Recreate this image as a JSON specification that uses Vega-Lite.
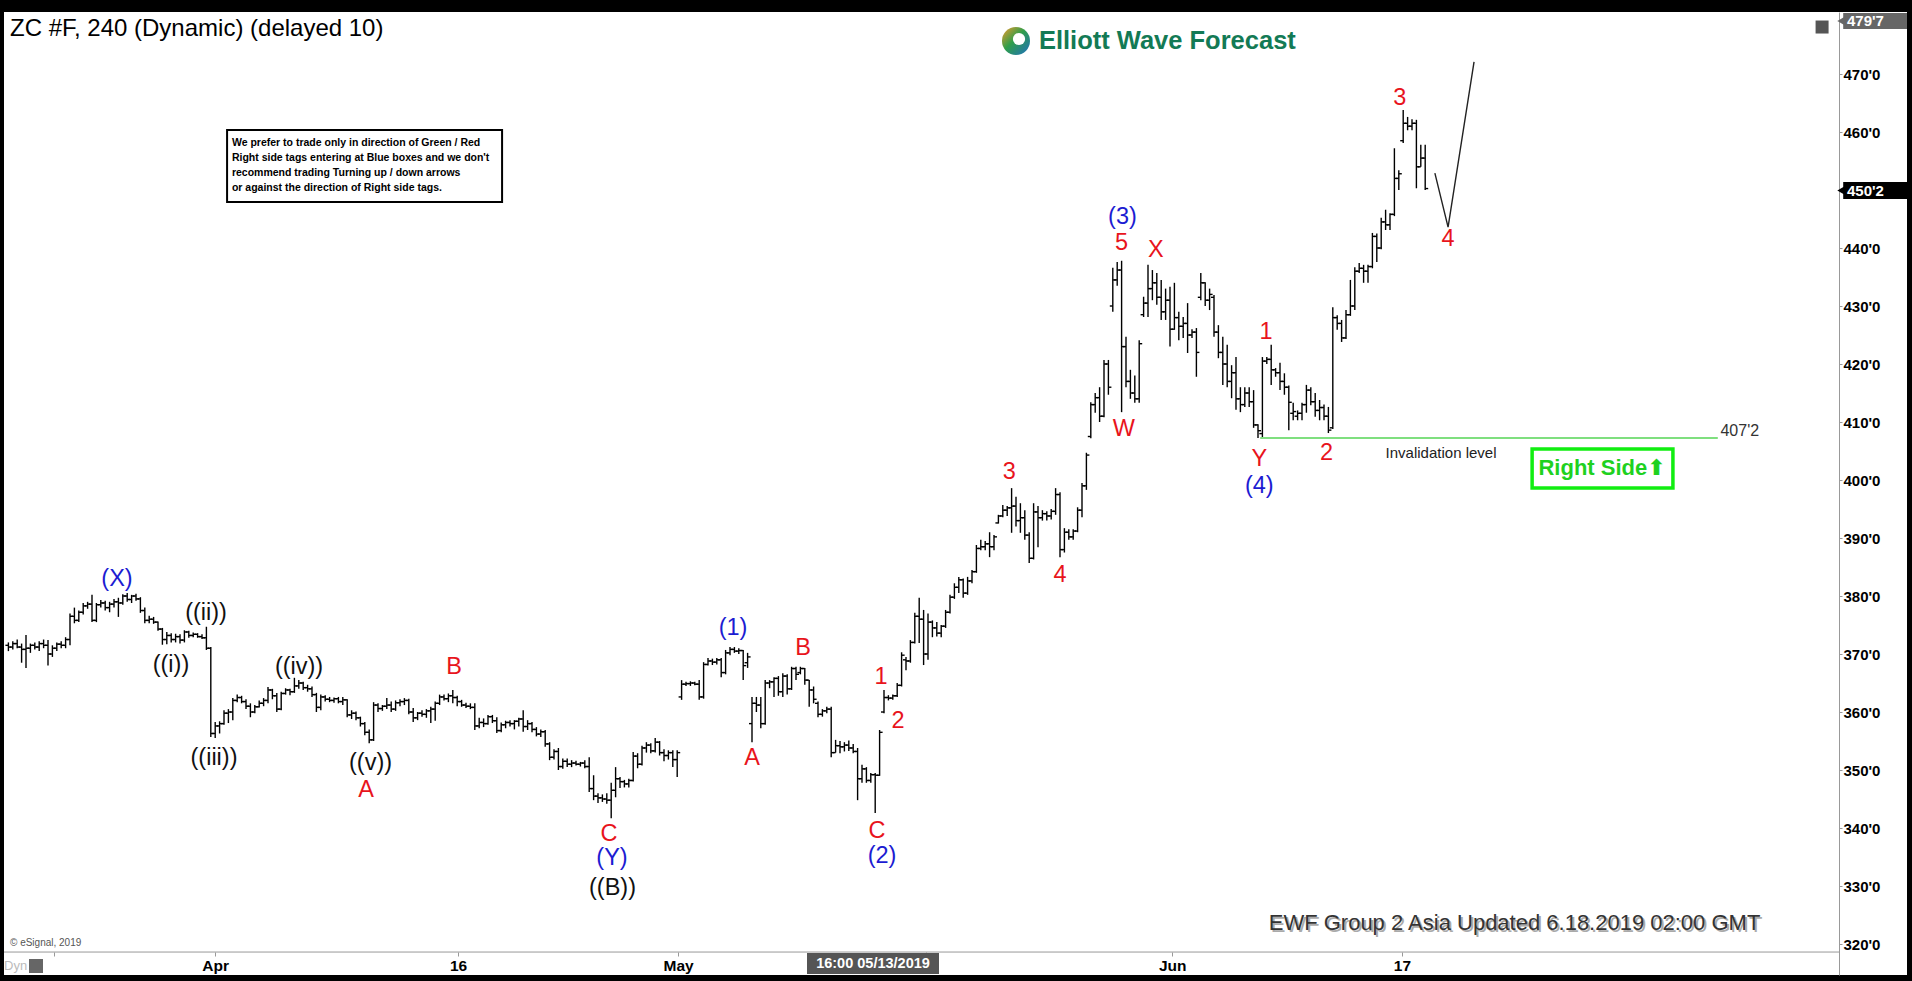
{
"$schema":"https://vega.github.io/schema/vega-lite/v6.json",
"width":1903,"height":963,
"autosize":{"type":"none"},
"padding":{"left":4,"top":12,"right":5,"bottom":6},
"background":"black",
"config":{"view":{"fill":"white","stroke":null},"font":"Liberation Sans","text":{"font":"Liberation Sans"},"axis":{"grid":false,"title":null}},
"datasets":{
"bars":[
{"i":1,"o":371.5,"h":372,"l":370.5,"c":371.2},{"i":2,"o":371.2,"h":372.2,"l":370.8,"c":371.8},{"i":3,"o":371.8,"h":372.5,"l":371,"c":371.2},{"i":4,"o":371.2,"h":371.8,"l":368.5,"c":370.8},{"i":5,"o":370.8,"h":373.3,"l":367.6,"c":371},
{"i":6,"o":371,"h":371.8,"l":370.2,"c":371.5},{"i":7,"o":371.5,"h":372,"l":370.8,"c":371.2},{"i":8,"o":371.2,"h":372.2,"l":370.5,"c":371.8},{"i":9,"o":371.8,"h":372.5,"l":371,"c":371.5},{"i":10,"o":371.5,"h":372.4,"l":368,"c":370},
{"i":11,"o":370,"h":371.5,"l":369.5,"c":371},{"i":12,"o":371,"h":372,"l":370.5,"c":371.7},{"i":13,"o":371.7,"h":372.2,"l":371,"c":371.5},{"i":14,"o":371.5,"h":372.9,"l":371,"c":372.5},{"i":15,"o":372.5,"h":377,"l":371.5,"c":376.5},
{"i":16,"o":376.5,"h":378,"l":375.3,"c":375.8},{"i":17,"o":375.8,"h":377.5,"l":375.5,"c":377.2},{"i":18,"o":377.2,"h":378.8,"l":376.8,"c":378.3},{"i":19,"o":378.3,"h":379,"l":377.8,"c":378.6},{"i":20,"o":378.6,"h":380.2,"l":375.5,"c":375.8},
{"i":21,"o":375.8,"h":378.8,"l":375.5,"c":378.5},{"i":22,"o":378.5,"h":379.3,"l":378,"c":378.8},{"i":23,"o":378.8,"h":379.2,"l":377.5,"c":378},{"i":24,"o":378,"h":379,"l":377.2,"c":378.6},{"i":25,"o":378.6,"h":379.5,"l":378,"c":379},
{"i":26,"o":379,"h":379.7,"l":376.4,"c":378.8},{"i":27,"o":378.8,"h":380.3,"l":378.5,"c":380},{"i":28,"o":380,"h":380.5,"l":379,"c":379.4},{"i":29,"o":379.4,"h":380.2,"l":378.8,"c":380},{"i":30,"o":380,"h":380.4,"l":379.2,"c":379.5},
{"i":31,"o":379.5,"h":379.8,"l":377.1,"c":377.5},{"i":32,"o":377.5,"h":378,"l":375.3,"c":375.8},{"i":33,"o":375.8,"h":376.6,"l":375.3,"c":376},{"i":34,"o":376,"h":376.4,"l":375.2,"c":375.5},{"i":35,"o":375.5,"h":375.6,"l":374,"c":374.3},
{"i":36,"o":374.3,"h":374.5,"l":371.6,"c":372.5},{"i":37,"o":372.5,"h":373.8,"l":371.7,"c":373.2},{"i":38,"o":373.2,"h":373.6,"l":372,"c":372.5},{"i":39,"o":372.5,"h":373.5,"l":372,"c":373},{"i":40,"o":373,"h":373.4,"l":371.8,"c":372.4},
{"i":41,"o":372.4,"h":374.1,"l":372,"c":373.8},{"i":42,"o":373.8,"h":374,"l":372.8,"c":373.2},{"i":43,"o":373.2,"h":373.7,"l":372.9,"c":373.4},{"i":44,"o":373.4,"h":373.6,"l":372.8,"c":373},{"i":45,"o":373,"h":373.4,"l":372.6,"c":372.8},
{"i":46,"o":372.8,"h":374.7,"l":370.7,"c":371},{"i":47,"o":371,"h":371.2,"l":355.7,"c":356.3},{"i":48,"o":356.3,"h":358.3,"l":355.5,"c":357.6},{"i":49,"o":357.6,"h":358.4,"l":356.3,"c":358},{"i":50,"o":358,"h":360.3,"l":357.8,"c":359.8},
{"i":51,"o":359.8,"h":360.5,"l":358.1,"c":360},{"i":52,"o":360,"h":362.4,"l":358.6,"c":362},{"i":53,"o":362,"h":363,"l":361.7,"c":362.5},{"i":54,"o":362.5,"h":362.8,"l":361.5,"c":361.8},{"i":55,"o":361.8,"h":362.2,"l":360.5,"c":361},
{"i":56,"o":361,"h":361.5,"l":359.1,"c":360},{"i":57,"o":360,"h":361.2,"l":359.8,"c":360.9},{"i":58,"o":360.9,"h":362,"l":360.8,"c":361.5},{"i":59,"o":361.5,"h":362.4,"l":361,"c":362},{"i":60,"o":362,"h":364.3,"l":361.5,"c":363.8},
{"i":61,"o":363.8,"h":364,"l":362.2,"c":362.8},{"i":62,"o":362.8,"h":363.3,"l":360,"c":360.5},{"i":63,"o":360.5,"h":363.5,"l":360.3,"c":363.2},{"i":64,"o":363.2,"h":364.1,"l":363,"c":363.8},{"i":65,"o":363.8,"h":364,"l":362.9,"c":363.5},
{"i":66,"o":363.5,"h":365.9,"l":363.3,"c":364.5},{"i":67,"o":364.5,"h":365.5,"l":364,"c":365},{"i":68,"o":365,"h":365.2,"l":363.8,"c":364.2},{"i":69,"o":364.2,"h":364.7,"l":363.5,"c":364},{"i":70,"o":364,"h":364.4,"l":362.6,"c":363},
{"i":71,"o":363,"h":363.3,"l":360,"c":360.8},{"i":72,"o":360.8,"h":363,"l":360.3,"c":362.6},{"i":73,"o":362.6,"h":362.9,"l":361.8,"c":362.2},{"i":74,"o":362.2,"h":362.6,"l":361.7,"c":362},{"i":75,"o":362,"h":362.5,"l":361.6,"c":362.3},
{"i":76,"o":362.3,"h":362.6,"l":361.5,"c":361.8},{"i":77,"o":361.8,"h":362.6,"l":361.2,"c":362.1},{"i":78,"o":362.1,"h":362.2,"l":359.1,"c":359.5},{"i":79,"o":359.5,"h":360.3,"l":358.8,"c":359.8},{"i":80,"o":359.8,"h":360.1,"l":358.6,"c":359},
{"i":81,"o":359,"h":359.2,"l":357.5,"c":358},{"i":82,"o":358,"h":358.3,"l":356,"c":356.5},{"i":83,"o":356.5,"h":357,"l":354.6,"c":355.2},{"i":84,"o":355.2,"h":361.7,"l":355,"c":361.2},{"i":85,"o":361.2,"h":361.5,"l":360,"c":360.6},
{"i":86,"o":360.6,"h":361.2,"l":360.2,"c":361},{"i":87,"o":361,"h":362.4,"l":360.5,"c":361.2},{"i":88,"o":361.2,"h":361.8,"l":360,"c":360.5},{"i":89,"o":360.5,"h":362,"l":360.2,"c":361.6},{"i":90,"o":361.6,"h":362.2,"l":361,"c":361.8},
{"i":91,"o":361.8,"h":362.4,"l":361.2,"c":362},{"i":92,"o":362,"h":362.3,"l":359.6,"c":360},{"i":93,"o":360,"h":360.7,"l":358.3,"c":359},{"i":94,"o":359,"h":360,"l":358.6,"c":359.8},{"i":95,"o":359.8,"h":360.3,"l":359.2,"c":359.6},
{"i":96,"o":359.6,"h":360.5,"l":359,"c":360.2},{"i":97,"o":360.2,"h":360.9,"l":358.1,"c":360.5},{"i":98,"o":360.5,"h":361.8,"l":358.5,"c":361.5},{"i":99,"o":361.5,"h":363,"l":361.2,"c":362.6},{"i":100,"o":362.6,"h":363,"l":362,"c":362.3},
{"i":101,"o":362.3,"h":363.2,"l":361.7,"c":362.8},{"i":102,"o":362.8,"h":363.8,"l":361.5,"c":362.5},{"i":103,"o":362.5,"h":362.8,"l":361,"c":361.8},{"i":104,"o":361.8,"h":362.1,"l":360.9,"c":361.2},{"i":105,"o":361.2,"h":361.6,"l":360.7,"c":361},
{"i":106,"o":361,"h":361.5,"l":360.5,"c":360.8},{"i":107,"o":360.8,"h":361.5,"l":356.9,"c":357.6},{"i":108,"o":357.6,"h":359,"l":357.2,"c":358.2},{"i":109,"o":358.2,"h":358.9,"l":357.4,"c":358},{"i":110,"o":358,"h":359.5,"l":357.8,"c":359.2},
{"i":111,"o":359.2,"h":359.5,"l":358.1,"c":358.5},{"i":112,"o":358.5,"h":359.1,"l":356.4,"c":356.8},{"i":113,"o":356.8,"h":358.2,"l":356.5,"c":357.8},{"i":114,"o":357.8,"h":358.5,"l":357.2,"c":358.2},{"i":115,"o":358.2,"h":358.6,"l":357.5,"c":358},
{"i":116,"o":358,"h":358.6,"l":357,"c":358.4},{"i":117,"o":358.4,"h":359,"l":357.5,"c":358.8},{"i":118,"o":358.8,"h":360.3,"l":356.6,"c":357.5},{"i":119,"o":357.5,"h":358.6,"l":356.9,"c":358},{"i":120,"o":358,"h":358.3,"l":356.5,"c":357},
{"i":121,"o":357,"h":357.4,"l":355.8,"c":356.2},{"i":122,"o":356.2,"h":357,"l":355.7,"c":356.6},{"i":123,"o":356.6,"h":356.9,"l":354,"c":354.5},{"i":124,"o":354.5,"h":354.8,"l":351.7,"c":352.2},{"i":125,"o":352.2,"h":353.6,"l":351.8,"c":353.2},
{"i":126,"o":353.2,"h":353.8,"l":350,"c":350.6},{"i":127,"o":350.6,"h":352,"l":350.2,"c":351.5},{"i":128,"o":351.5,"h":352,"l":350.5,"c":351},{"i":129,"o":351,"h":351.7,"l":350.5,"c":351.2},{"i":130,"o":351.2,"h":351.6,"l":350.8,"c":351},
{"i":131,"o":351,"h":351.4,"l":350.6,"c":351.2},{"i":132,"o":351.2,"h":351.7,"l":350.3,"c":350.6},{"i":133,"o":350.6,"h":352.2,"l":346.2,"c":346.8},{"i":134,"o":346.8,"h":349.1,"l":344.8,"c":345.5},{"i":135,"o":345.5,"h":346,"l":344.3,"c":345.2},
{"i":136,"o":345.2,"h":345.8,"l":344.5,"c":345},{"i":137,"o":345,"h":346,"l":344.2,"c":344.8},{"i":138,"o":344.8,"h":347.8,"l":341.7,"c":346.5},{"i":139,"o":346.5,"h":350.5,"l":345.3,"c":348.5},{"i":140,"o":348.5,"h":348.8,"l":346.9,"c":348},
{"i":141,"o":348,"h":348.3,"l":347,"c":347.6},{"i":142,"o":347.6,"h":348.5,"l":347,"c":348.2},{"i":143,"o":348.2,"h":353.1,"l":348,"c":352.4},{"i":144,"o":352.4,"h":352.9,"l":350.3,"c":351},{"i":145,"o":351,"h":354.2,"l":350.8,"c":353.8},
{"i":146,"o":353.8,"h":354.8,"l":353,"c":354.3},{"i":147,"o":354.3,"h":354.6,"l":352.9,"c":353.3},{"i":148,"o":353.3,"h":355.5,"l":353,"c":354.8},{"i":149,"o":354.8,"h":355,"l":352.5,"c":353},{"i":150,"o":353,"h":353.6,"l":351.5,"c":352.5},
{"i":151,"o":352.5,"h":353.4,"l":351.8,"c":353},{"i":152,"o":353,"h":353.4,"l":350.5,"c":351.8},{"i":153,"o":351.8,"h":353.4,"l":348.8,"c":353},{"i":154,"o":362.6,"h":365.5,"l":362.1,"c":364.8},{"i":155,"o":364.8,"h":365.2,"l":364.5,"c":364.9},
{"i":156,"o":364.9,"h":365.3,"l":364.5,"c":365},{"i":157,"o":365,"h":365.2,"l":364.6,"c":364.8},{"i":158,"o":364.8,"h":365.5,"l":362.1,"c":362.6},{"i":159,"o":362.6,"h":368.6,"l":362.3,"c":368.2},{"i":160,"o":368.2,"h":369.3,"l":368,"c":368.8},
{"i":161,"o":368.8,"h":369.2,"l":368.1,"c":368.6},{"i":162,"o":368.6,"h":369.3,"l":368.2,"c":369},{"i":163,"o":369,"h":369.3,"l":366,"c":366.8},{"i":164,"o":366.8,"h":370.7,"l":366.5,"c":370.2},{"i":165,"o":370.2,"h":371.2,"l":369.8,"c":370.8},
{"i":166,"o":370.8,"h":371.2,"l":370.2,"c":370.5},{"i":167,"o":370.5,"h":371,"l":370,"c":370.6},{"i":168,"o":370.6,"h":370.7,"l":365.5,"c":368},{"i":169,"o":368.5,"h":370.2,"l":367.6,"c":369.5},{"i":170,"o":358,"h":362.6,"l":354.8,"c":361.5},
{"i":171,"o":361.5,"h":362.6,"l":360,"c":361.2},{"i":172,"o":361.2,"h":362.6,"l":357.2,"c":358},{"i":173,"o":358,"h":365.5,"l":357.8,"c":365},{"i":174,"o":365,"h":365.5,"l":364.1,"c":365.2},{"i":175,"o":365.2,"h":366,"l":362.6,"c":365.8},
{"i":176,"o":365.8,"h":366.2,"l":362.8,"c":363.5},{"i":177,"o":363.5,"h":366.7,"l":362.6,"c":366.2},{"i":178,"o":366.2,"h":366.5,"l":363,"c":364},{"i":179,"o":364,"h":367.8,"l":363.8,"c":367.5},{"i":180,"o":367.5,"h":367.8,"l":365.5,"c":366.5},
{"i":181,"o":366.8,"h":367.8,"l":366.5,"c":367.5},{"i":182,"o":367.5,"h":367.6,"l":364.7,"c":365.5},{"i":183,"o":365.5,"h":365.5,"l":360.9,"c":363.8},{"i":184,"o":363.8,"h":364.4,"l":361.5,"c":362.2},{"i":185,"o":361.5,"h":361.8,"l":359.1,"c":359.6},
{"i":186,"o":359.6,"h":360.5,"l":359.2,"c":360.2},{"i":187,"o":360.2,"h":360.9,"l":359.8,"c":360.5},{"i":188,"o":360.5,"h":360.9,"l":352.2,"c":353},{"i":189,"o":353,"h":355.2,"l":353,"c":354.2},{"i":190,"o":354.2,"h":355,"l":352.9,"c":354},
{"i":191,"o":354,"h":354.8,"l":353.2,"c":354.3},{"i":192,"o":354.3,"h":355.1,"l":353.3,"c":353.8},{"i":193,"o":353.8,"h":354.5,"l":352.9,"c":353.2},{"i":194,"o":353.2,"h":353.8,"l":344.8,"c":348.5},{"i":195,"o":348.5,"h":350.9,"l":347.8,"c":350.2},
{"i":196,"o":350.2,"h":350.5,"l":347.8,"c":348.2},{"i":197,"o":348.2,"h":349.5,"l":347.8,"c":349.2},{"i":198,"o":349.2,"h":349.5,"l":342.6,"c":349.1},{"i":199,"o":349.1,"h":356.9,"l":349,"c":356.5},{"i":200,"o":360,"h":363.8,"l":359.8,"c":362.5},
{"i":201,"o":362.5,"h":362.9,"l":362,"c":362.4},{"i":202,"o":362.4,"h":363,"l":362.1,"c":362.8},{"i":203,"o":362.8,"h":365,"l":362.6,"c":364.6},{"i":204,"o":364.6,"h":370.3,"l":364.4,"c":369.8},{"i":205,"o":369,"h":369.5,"l":367.2,"c":368.8},
{"i":206,"o":368.8,"h":372.4,"l":368.5,"c":372},{"i":207,"o":372,"h":377.1,"l":371.8,"c":376.5},{"i":208,"o":376.5,"h":379.7,"l":371.9,"c":376},{"i":209,"o":376,"h":377.6,"l":368.1,"c":370},{"i":210,"o":370,"h":377,"l":369,"c":375.5},
{"i":211,"o":375.5,"h":375.8,"l":372.9,"c":374.5},{"i":212,"o":374.5,"h":375.5,"l":373,"c":373.6},{"i":213,"o":373.6,"h":375,"l":372.9,"c":374.8},{"i":214,"o":374.8,"h":377.6,"l":374.5,"c":377.2},{"i":215,"o":377.2,"h":380.2,"l":377,"c":379.8},
{"i":216,"o":379.8,"h":382.2,"l":379.5,"c":381.5},{"i":217,"o":381.5,"h":383.3,"l":380.5,"c":382.8},{"i":218,"o":382.8,"h":383,"l":379.7,"c":380.5},{"i":219,"o":380.5,"h":383.3,"l":380.2,"c":382.6},{"i":220,"o":382.6,"h":384.5,"l":382.2,"c":384.2},
{"i":221,"o":384.2,"h":388.8,"l":384,"c":388.2},{"i":222,"o":388.2,"h":389.7,"l":387.9,"c":388.5},{"i":223,"o":388.5,"h":389.5,"l":387.9,"c":389},{"i":224,"o":389,"h":391,"l":386.7,"c":388.5},{"i":225,"o":388.5,"h":390.5,"l":387.9,"c":390.2},
{"i":226,"o":392.6,"h":394,"l":392.5,"c":393.8},{"i":227,"o":393.8,"h":395.7,"l":393.6,"c":394.8},{"i":228,"o":394.8,"h":395.5,"l":393.8,"c":395.2},{"i":229,"o":395.2,"h":398.6,"l":390.9,"c":395.5},{"i":230,"o":395.5,"h":397.1,"l":392,"c":393},
{"i":231,"o":393,"h":396,"l":390.9,"c":393.5},{"i":232,"o":393.5,"h":394.8,"l":389.7,"c":390.5},{"i":233,"o":390.5,"h":391,"l":385.7,"c":386.5},{"i":234,"o":386.5,"h":396,"l":386.3,"c":394.5},{"i":235,"o":394.5,"h":395.5,"l":388.4,"c":393.5},
{"i":236,"o":393.5,"h":394.8,"l":393,"c":394.2},{"i":237,"o":394.2,"h":394.6,"l":393,"c":393.8},{"i":238,"o":393.8,"h":395,"l":393.2,"c":394.6},{"i":239,"o":394.6,"h":398.6,"l":394,"c":397.5},{"i":240,"o":397.5,"h":397.9,"l":386.7,"c":388},
{"i":241,"o":388,"h":391.7,"l":387.5,"c":391},{"i":242,"o":391,"h":391.5,"l":389.7,"c":390.2},{"i":243,"o":390.2,"h":391.5,"l":389.7,"c":391.2},{"i":244,"o":391.2,"h":395.3,"l":391,"c":394.8},{"i":245,"o":394.8,"h":399.5,"l":393.6,"c":399},
{"i":246,"o":399,"h":404.7,"l":398.3,"c":404.3},{"i":247,"o":407.5,"h":413.4,"l":407.2,"c":413},{"i":248,"o":413,"h":415,"l":411.6,"c":414.2},{"i":249,"o":414.2,"h":416,"l":410,"c":411},{"i":250,"o":411,"h":420.7,"l":410.8,"c":420},
{"i":251,"o":420,"h":420.7,"l":414.7,"c":416},{"i":252,"o":430,"h":436.6,"l":429,"c":434.5},{"i":253,"o":434.5,"h":437.6,"l":433.5,"c":436.2},{"i":254,"o":436.2,"h":437.8,"l":411.7,"c":423},{"i":255,"o":423,"h":424.7,"l":416,"c":417},
{"i":256,"o":417,"h":419,"l":414,"c":415},{"i":257,"o":415,"h":418,"l":413.3,"c":414},{"i":258,"o":414,"h":424.1,"l":413.3,"c":423.5},{"i":259,"o":428.5,"h":431.6,"l":428.1,"c":430.5},{"i":260,"o":430.5,"h":437.1,"l":428.1,"c":433},
{"i":261,"o":433,"h":436.2,"l":431,"c":434},{"i":262,"o":434,"h":435.7,"l":430.2,"c":431.5},{"i":263,"o":431.5,"h":434.5,"l":427.6,"c":429},{"i":264,"o":429,"h":433,"l":427.6,"c":431},{"i":265,"o":431,"h":433.3,"l":423,"c":426},
{"i":266,"o":426,"h":434,"l":425.9,"c":428},{"i":267,"o":428,"h":429,"l":424.1,"c":426.5},{"i":268,"o":426.5,"h":428.1,"l":424.5,"c":427},{"i":269,"o":427,"h":430.5,"l":421.9,"c":425},{"i":270,"o":425,"h":426,"l":424.5,"c":425.5},
{"i":271,"o":425.5,"h":426.2,"l":417.8,"c":422},{"i":272,"o":431.5,"h":435.7,"l":431,"c":434},{"i":273,"o":434,"h":434.1,"l":430,"c":431},{"i":274,"o":431,"h":433,"l":429.3,"c":432},{"i":275,"o":431.5,"h":431.9,"l":424.7,"c":425.5},
{"i":276,"o":425.5,"h":426.7,"l":421,"c":422},{"i":277,"o":422,"h":424.7,"l":416.4,"c":420},{"i":278,"o":420,"h":423.3,"l":416,"c":417},{"i":279,"o":417,"h":419.8,"l":414.1,"c":418.5},{"i":280,"o":418.5,"h":421.2,"l":412.1,"c":414},
{"i":281,"o":414,"h":416,"l":411.7,"c":413},{"i":282,"o":413,"h":416,"l":412.6,"c":415},{"i":283,"o":415,"h":416,"l":412.6,"c":413.5},{"i":284,"o":413.5,"h":415.5,"l":409,"c":409.5},{"i":285,"o":409.5,"h":409.6,"l":407.25,"c":408.5},
{"i":286,"o":408,"h":421.2,"l":407.3,"c":420.5},{"i":287,"o":420.5,"h":421.2,"l":420,"c":420.8},{"i":288,"o":420.8,"h":423.3,"l":416.4,"c":419},{"i":289,"o":419,"h":419.3,"l":417.8,"c":418.5},{"i":290,"o":418.5,"h":420.2,"l":415.5,"c":417},
{"i":291,"o":417,"h":418.4,"l":414.7,"c":416},{"i":292,"o":416,"h":416.3,"l":408.6,"c":413.4},{"i":293,"o":411.5,"h":413.3,"l":410.3,"c":411.8},{"i":294,"o":411,"h":412,"l":410.3,"c":411.5},{"i":295,"o":411.5,"h":413.3,"l":410.3,"c":413},
{"i":296,"o":413,"h":416.4,"l":411.6,"c":415.5},{"i":297,"o":415.5,"h":416,"l":412.9,"c":413.5},{"i":298,"o":413.5,"h":415,"l":410.9,"c":412},{"i":299,"o":412,"h":413.8,"l":410.3,"c":412.5},{"i":300,"o":412.5,"h":413,"l":410.3,"c":411},
{"i":301,"o":411,"h":412.6,"l":408.1,"c":408.6},{"i":302,"o":409,"h":429.8,"l":408.8,"c":428},{"i":303,"o":428,"h":428.4,"l":425.9,"c":427},{"i":304,"o":427,"h":427.6,"l":423.8,"c":424.5},{"i":305,"o":424.5,"h":429.3,"l":424.3,"c":428.5},
{"i":306,"o":428.5,"h":434.5,"l":428.3,"c":430},{"i":307,"o":430,"h":436.7,"l":429.3,"c":436},{"i":308,"o":436,"h":437.4,"l":435.7,"c":436.5},{"i":309,"o":436.5,"h":437.1,"l":434,"c":436},{"i":310,"o":436,"h":437.1,"l":434,"c":436.8},
{"i":311,"o":436.8,"h":442.6,"l":436.5,"c":442},{"i":312,"o":442,"h":442.5,"l":437.6,"c":440},{"i":313,"o":440,"h":445.2,"l":439.8,"c":444.5},{"i":314,"o":444.5,"h":446.6,"l":443.1,"c":444},{"i":315,"o":444,"h":446,"l":443.1,"c":445.8},
{"i":316,"o":445.8,"h":457.2,"l":445.5,"c":452},{"i":317,"o":452,"h":453.4,"l":450,"c":452.8},{"i":318,"o":458.5,"h":463.8,"l":458.1,"c":461.5},{"i":319,"o":461.5,"h":462.6,"l":460.3,"c":461},{"i":320,"o":461,"h":462.2,"l":460.3,"c":461.5},
{"i":321,"o":461.5,"h":462.1,"l":450.3,"c":454},{"i":322,"o":454,"h":457.8,"l":454,"c":455.5},{"i":323,"o":455.5,"h":457.8,"l":450,"c":450.25}
],
"waves":[
{"i":25.68,"p":382.93,"t":"(X)","deg":"intermediate"},
{"i":37.95,"p":368.1,"t":"((i))","deg":"primary"},
{"i":45.91,"p":377.07,"t":"((ii))","deg":"primary"},
{"i":47.73,"p":352.07,"t":"((iii))","deg":"primary"},
{"i":67.05,"p":367.76,"t":"((iv))","deg":"primary"},
{"i":83.3,"p":351.21,"t":"((v))","deg":"primary"},
{"i":82.27,"p":346.55,"t":"A","deg":"minor"},
{"i":102.27,"p":367.76,"t":"B","deg":"minor"},
{"i":137.5,"p":338.97,"t":"C","deg":"minor"},
{"i":138.18,"p":334.83,"t":"(Y)","deg":"intermediate"},
{"i":138.3,"p":329.66,"t":"((B))","deg":"primary"},
{"i":165.68,"p":374.48,"t":"(1)","deg":"intermediate"},
{"i":170,"p":352.07,"t":"A","deg":"minor"},
{"i":181.59,"p":371.03,"t":"B","deg":"minor"},
{"i":198.4,"p":339.48,"t":"C","deg":"minor"},
{"i":199.55,"p":335.17,"t":"(2)","deg":"intermediate"},
{"i":199.3,"p":366.03,"t":"1","deg":"minor"},
{"i":203.2,"p":358.45,"t":"2","deg":"minor"},
{"i":228.5,"p":401.38,"t":"3","deg":"minor"},
{"i":240,"p":383.62,"t":"4","deg":"minor"},
{"i":254.5,"p":408.79,"t":"W","deg":"minor"},
{"i":254.2,"p":445.34,"t":"(3)","deg":"intermediate"},
{"i":254,"p":440.86,"t":"5","deg":"minor"},
{"i":261.8,"p":439.66,"t":"X","deg":"minor"},
{"i":286.8,"p":425.52,"t":"1","deg":"minor"},
{"i":285.3,"p":403.62,"t":"Y","deg":"minor"},
{"i":285.3,"p":398.97,"t":"(4)","deg":"intermediate"},
{"i":300.6,"p":404.66,"t":"2","deg":"minor"},
{"i":317.2,"p":465.86,"t":"3","deg":"minor"},
{"i":328.2,"p":441.55,"t":"4","deg":"minor"}
],
"note":[
{"i":51.8,"p":458.1,"t":"We prefer to trade only in direction of Green / Red"},
{"i":51.8,"p":455.52,"t":"Right side tags entering at Blue boxes and we don't"},
{"i":51.8,"p":452.93,"t":"recommend trading Turning up / down arrows"},
{"i":51.8,"p":450.34,"t":"or against the direction of Right side tags."}
],
"forecast":[
{"i":325.2,"p":452.9,"k":1},{"i":328.2,"p":443.6,"k":2},{"i":334.1,"p":472.1,"k":3}
]
},
"layer":[
{"data":{"name":"bars"},
 "mark":{"type":"rule","color":"black","strokeWidth":1.4},
 "encoding":{
  "x":{"field":"i","type":"quantitative","scale":{"domain":[0,432.5],"nice":false,"zero":false,"padding":0},
   "axis":{"orient":"bottom","offset":-23,"title":null,"grid":false,"domain":false,"values":[11.4,48,103.2,153.2,209.5,265.5,317.7],
    "labelExpr":"datum.value == 48 ? 'Apr' : datum.value == 103.2 ? '16' : datum.value == 153.2 ? 'May' : datum.value == 265.5 ? 'Jun' : datum.value == 317.7 ? '17' : ''",
    "tickSize":4,"tickColor":"#999999","labelFont":"Liberation Sans","labelFontSize":15.5,"labelFontWeight":"bold","labelColor":"black","labelPadding":2,"labelFlush":false,"labelOverlap":false}},
  "y":{"field":"l","type":"quantitative","scale":{"domain":[314.66,480.69],"nice":false,"zero":false,"padding":0},
   "axis":{"orient":"right","offset":-68,"title":null,"grid":false,"values":[320,330,340,350,360,370,380,390,400,410,420,430,440,460,470],
    "labelExpr":"datum.value + \"'0\"","domainColor":"#999999","tickSize":3,"tickColor":"#999999","labelFont":"Liberation Sans","labelFontSize":15,"labelFontWeight":"bold","labelColor":"black","labelPadding":1,"labelAlign":"left","labelOverlap":false}},
  "y2":{"field":"h"}}},
{"data":{"values":[{"i":50.7,"i2":113.2,"p":460.34,"p2":447.93}]},
 "mark":{"type":"rect","fill":"white","stroke":"black","strokeWidth":2},
 "encoding":{"x":{"field":"i","type":"quantitative"},"x2":{"field":"i2"},"y":{"field":"p","type":"quantitative"},"y2":{"field":"p2"}}},
{"data":{"name":"note"},
 "mark":{"type":"text","align":"left","baseline":"middle","fontSize":10.5,"fontWeight":"bold","color":"black"},
 "encoding":{"x":{"field":"i","type":"quantitative"},"y":{"field":"p","type":"quantitative"},"text":{"field":"t"}}},
{"data":{"name":"bars"},
 "mark":{"type":"tick","orient":"horizontal","size":3,"thickness":1.4,"xOffset":-1.5,"color":"black","opacity":1},
 "encoding":{"x":{"field":"i","type":"quantitative"},"y":{"field":"o","type":"quantitative"}}},
{"data":{"name":"bars"},
 "mark":{"type":"tick","orient":"horizontal","size":3,"thickness":1.4,"xOffset":1.5,"color":"black","opacity":1},
 "encoding":{"x":{"field":"i","type":"quantitative"},"y":{"field":"c","type":"quantitative"}}},
{"data":{"values":[{"i":0,"i2":417.05,"p":318.62}]},
 "mark":{"type":"rule","color":"#999999","strokeWidth":1},
 "encoding":{"x":{"field":"i","type":"quantitative"},"x2":{"field":"i2"},"y":{"field":"p","type":"quantitative"}}},
{"data":{"values":[{"i":285.5,"i2":389.5,"p":407.25}]},
 "mark":{"type":"rule","color":"#7fdf7f","strokeWidth":2},
 "encoding":{"x":{"field":"i","type":"quantitative"},"x2":{"field":"i2"},"y":{"field":"p","type":"quantitative"}}},
{"data":{"name":"forecast"},
 "mark":{"type":"line","color":"#222222","strokeWidth":1.4},
 "encoding":{"x":{"field":"i","type":"quantitative"},"y":{"field":"p","type":"quantitative"},"order":{"field":"k"}}},
{"data":{"name":"waves"},
 "mark":{"type":"text","align":"center","baseline":"middle","fontSize":23.5,"font":"Liberation Sans"},
 "encoding":{"x":{"field":"i","type":"quantitative"},"y":{"field":"p","type":"quantitative"},"text":{"field":"t"},
  "color":{"field":"deg","type":"nominal","scale":{"domain":["minor","intermediate","primary"],"range":["#e8141c","#1c1cd2","#111111"]},"legend":null}}},
{"data":{"values":[{"i":394.5,"p":408.45,"t":"407'2"}]},
 "mark":{"type":"text","align":"center","baseline":"middle","fontSize":16,"color":"#333333"},
 "encoding":{"x":{"field":"i","type":"quantitative"},"y":{"field":"p","type":"quantitative"},"text":{"field":"t"}}},
{"data":{"values":[{"i":326.6,"p":404.66,"t":"Invalidation level"}]},
 "mark":{"type":"text","align":"center","baseline":"middle","fontSize":15,"color":"#222222"},
 "encoding":{"x":{"field":"i","type":"quantitative"},"y":{"field":"p","type":"quantitative"},"text":{"field":"t"}}},
{"data":{"values":[{"i":347.3,"i2":379.3,"p":405.34,"p2":398.62}]},
 "mark":{"type":"rect","fill":"white","stroke":"#11ee11","strokeWidth":3.5},
 "encoding":{"x":{"field":"i","type":"quantitative"},"x2":{"field":"i2"},"y":{"field":"p","type":"quantitative"},"y2":{"field":"p2"}}},
{"data":{"values":[{"i":363.2,"p":402.07,"t":"Right Side⬆"}]},
 "mark":{"type":"text","align":"center","baseline":"middle","fontSize":22,"fontWeight":"bold","color":"#1fd11f","font":"Liberation Sans, DejaVu Sans"},
 "encoding":{"x":{"field":"i","type":"quantitative"},"y":{"field":"p","type":"quantitative"},"text":{"field":"t"}}},
{"data":{"values":[{"i":230,"p":475.69}]},
 "mark":{"type":"point","shape":"circle","filled":true,"size":784,"opacity":1,"color":{"gradient":"linear","x1":0,"y1":0,"x2":1,"y2":1,"stops":[{"offset":0,"color":"#f39a2b"},{"offset":0.45,"color":"#2f9e4a"},{"offset":1,"color":"#1f6fc0"}]}},
 "encoding":{"x":{"field":"i","type":"quantitative"},"y":{"field":"p","type":"quantitative"}}},
{"data":{"values":[{"i":230,"p":475.69}]},
 "mark":{"type":"point","shape":"circle","filled":true,"size":150,"opacity":1,"color":"white","xOffset":3,"yOffset":-2},
 "encoding":{"x":{"field":"i","type":"quantitative"},"y":{"field":"p","type":"quantitative"}}},
{"data":{"values":[{"i":235.2,"p":475.69,"t":"Elliott Wave Forecast"}]},
 "mark":{"type":"text","align":"left","baseline":"middle","fontSize":25.5,"fontWeight":"bold","color":"#137a55"},
 "encoding":{"x":{"field":"i","type":"quantitative"},"y":{"field":"p","type":"quantitative"},"text":{"field":"t"}}},
{"data":{"values":[{"i":1.36,"p":477.84,"t":"ZC #F, 240 (Dynamic) (delayed 10)"}]},
 "mark":{"type":"text","align":"left","baseline":"middle","fontSize":24,"color":"black"},
 "encoding":{"x":{"field":"i","type":"quantitative"},"y":{"field":"p","type":"quantitative"},"text":{"field":"t"}}},
{"data":{"values":[{"i":413.2,"p":478.1}]},
 "mark":{"type":"point","shape":"square","filled":true,"size":169,"opacity":1,"color":"#555555"},
 "encoding":{"x":{"field":"i","type":"quantitative"},"y":{"field":"p","type":"quantitative"}}},
{"data":{"values":[{"i":1.36,"p":320.17,"t":"© eSignal, 2019"}]},
 "mark":{"type":"text","align":"left","baseline":"middle","fontSize":10,"color":"#555555"},
 "encoding":{"x":{"field":"i","type":"quantitative"},"y":{"field":"p","type":"quantitative"},"text":{"field":"t"}}},
{"data":{"values":[{"i":0,"p":316.21,"t":"Dyn"}]},
 "mark":{"type":"text","align":"left","baseline":"middle","fontSize":13,"color":"#bbbbbb"},
 "encoding":{"x":{"field":"i","type":"quantitative"},"y":{"field":"p","type":"quantitative"},"text":{"field":"t"}}},
{"data":{"values":[{"i":7.27,"p":316.21}]},
 "mark":{"type":"point","shape":"square","filled":true,"size":196,"opacity":1,"color":"#666666"},
 "encoding":{"x":{"field":"i","type":"quantitative"},"y":{"field":"p","type":"quantitative"}}},
{"data":{"values":[{"i":343.3,"p":323.62,"t":"EWF Group 2 Asia Updated 6.18.2019 02:00 GMT"}]},
 "mark":{"type":"text","align":"center","baseline":"middle","fontSize":22,"color":"#aaaaaa","dx":2,"dy":2},
 "encoding":{"x":{"field":"i","type":"quantitative"},"y":{"field":"p","type":"quantitative"},"text":{"field":"t"}}},
{"data":{"values":[{"i":343.3,"p":323.62,"t":"EWF Group 2 Asia Updated 6.18.2019 02:00 GMT"}]},
 "mark":{"type":"text","align":"center","baseline":"middle","fontSize":22,"color":"#333333"},
 "encoding":{"x":{"field":"i","type":"quantitative"},"y":{"field":"p","type":"quantitative"},"text":{"field":"t"}}},
{"data":{"values":[{"i":182.5,"i2":212.5,"p":318.45,"p2":314.83}]},
 "mark":{"type":"rect","fill":"#555555"},
 "encoding":{"x":{"field":"i","type":"quantitative"},"x2":{"field":"i2"},"y":{"field":"p","type":"quantitative"},"y2":{"field":"p2"}}},
{"data":{"values":[{"i":197.5,"p":316.6,"t":"16:00 05/13/2019"}]},
 "mark":{"type":"text","align":"center","baseline":"middle","fontSize":14.5,"fontWeight":"bold","color":"white"},
 "encoding":{"x":{"field":"i","type":"quantitative"},"y":{"field":"p","type":"quantitative"},"text":{"field":"t"}}},
{"data":{"values":[{"i":418.0,"i2":432.5,"p":480.52,"p2":477.76,"tag":"high"},{"i":418.0,"i2":432.5,"p":451.38,"p2":448.45,"tag":"last"}]},
 "mark":{"type":"rect"},
 "encoding":{"x":{"field":"i","type":"quantitative"},"x2":{"field":"i2"},"y":{"field":"p","type":"quantitative"},"y2":{"field":"p2"},
  "fill":{"field":"tag","type":"nominal","scale":{"domain":["high","last"],"range":["#666666","#000000"]},"legend":null}}},
{"data":{"values":[{"i":417.6,"p":479.14,"tag":"high"},{"i":417.6,"p":449.9,"tag":"last"}]},
 "mark":{"type":"point","shape":"triangle-left","filled":true,"size":90,"opacity":1},
 "encoding":{"x":{"field":"i","type":"quantitative"},"y":{"field":"p","type":"quantitative"},
  "fill":{"field":"tag","type":"nominal","scale":{"domain":["high","last"],"range":["#666666","#000000"]},"legend":null}}},
{"data":{"values":[{"i":418.86,"p":479.14,"t":"479'7"},{"i":418.86,"p":449.9,"t":"450'2"}]},
 "mark":{"type":"text","align":"left","baseline":"middle","fontSize":15,"fontWeight":"bold","color":"white"},
 "encoding":{"x":{"field":"i","type":"quantitative"},"y":{"field":"p","type":"quantitative"},"text":{"field":"t"}}}
]
}
